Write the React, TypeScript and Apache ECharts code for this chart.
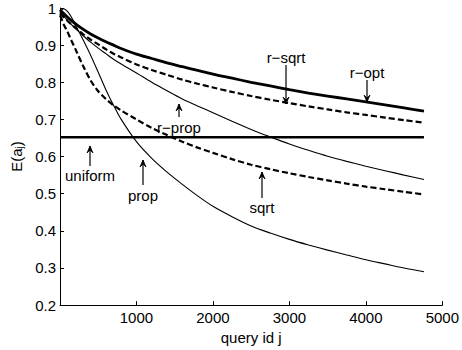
import React, { useEffect, useRef } from "react";
import * as echarts from "echarts";

const queryIds = [0, 25, 50, 100, 150, 200, 300, 400, 500, 600, 700, 800, 1000, 1200, 1400, 1600, 1800, 2000, 2250, 2500, 2750, 3000, 3250, 3500, 3750, 4000, 4250, 4500, 4760];
const rOpt = [0.995, 0.99, 0.985, 0.975, 0.966, 0.958, 0.943, 0.93, 0.919, 0.909, 0.9, 0.891, 0.876, 0.864, 0.852, 0.842, 0.832, 0.822, 0.811, 0.8, 0.79, 0.78, 0.771, 0.763, 0.755, 0.747, 0.739, 0.731, 0.722];
const rSqrt = [0.985, 0.98, 0.975, 0.965, 0.956, 0.947, 0.93, 0.915, 0.902, 0.889, 0.877, 0.867, 0.848, 0.833, 0.82, 0.807, 0.796, 0.786, 0.774, 0.763, 0.753, 0.744, 0.735, 0.727, 0.719, 0.712, 0.705, 0.698, 0.691];
const rProp = [0.99, 0.984, 0.978, 0.966, 0.955, 0.945, 0.926, 0.908, 0.892, 0.877, 0.862, 0.849, 0.825, 0.8, 0.777, 0.755, 0.736, 0.718, 0.695, 0.673, 0.653, 0.634, 0.617, 0.601, 0.587, 0.574, 0.562, 0.55, 0.538];
const sqrtV = [0.98, 0.968, 0.955, 0.935, 0.912, 0.89, 0.845, 0.805, 0.776, 0.755, 0.738, 0.724, 0.7, 0.677, 0.658, 0.64, 0.624, 0.61, 0.593, 0.578, 0.566, 0.555, 0.545, 0.536, 0.527, 0.519, 0.512, 0.505, 0.498];
const propV = [0.985, 0.995, 0.998, 0.99, 0.975, 0.955, 0.915, 0.873, 0.827, 0.78, 0.738, 0.7, 0.64, 0.595, 0.558, 0.525, 0.494, 0.466, 0.438, 0.413, 0.394, 0.377, 0.362, 0.348, 0.335, 0.322, 0.311, 0.3, 0.29];
const uniformLevel = 0.652;
const yTicks = { min: 0.2, max: 1, interval: 0.1 };
const xTicks = { min: 0, max: 5000, interval: 1000 };

const FONT = "Liberation Sans, Arial, Helvetica, sans-serif";

function pairs(vals: number[]) {
  return queryIds.map((x, i) => [x, vals[i]]);
}

function arrow(label: string, x: number, labelY: number, y1: number, y2: number) {
  const dir = y2 > y1 ? 1 : -1;
  return {
    type: "group",
    children: [
      {
        type: "text",
        x,
        y: labelY,
        style: { text: label, font: `15px ${FONT}`, fill: "#000", align: "center", verticalAlign: "middle" },
      },
      { type: "line", shape: { x1: x, y1, x2: x, y2 }, style: { stroke: "#000", lineWidth: 1.2 } },
      {
        type: "polygon",
        shape: { points: [[x - 3, y2 - dir * 7], [x, y2], [x + 3, y2 - dir * 7], [x, y2 - dir * 4]] },
        style: { fill: "#000", stroke: "#000", lineWidth: 0.8 },
      },
    ],
  };
}

export default function App() {
  const ref = useRef<HTMLDivElement>(null);
  useEffect(() => {
    if (!ref.current) return;
    const chart = echarts.init(ref.current, null, { renderer: "svg" });
    const thin = { type: "line", showSymbol: false, smooth: 0.3, lineStyle: { color: "#000", width: 1.1 } };
    chart.setOption({
      animation: false,
      grid: { left: 60, right: 16, top: 8, bottom: 37 },
      textStyle: { fontFamily: FONT },
      xAxis: {
        type: "value",
        ...xTicks,
        name: "query id j",
        nameLocation: "middle",
        nameGap: 20,
        nameTextStyle: { fontSize: 15, color: "#000", fontFamily: FONT },
        axisLine: { lineStyle: { color: "#000", width: 1 } },
        axisTick: { inside: true, length: 4, lineStyle: { color: "#000" } },
        axisLabel: { fontSize: 15, color: "#000", margin: 5, fontFamily: FONT, formatter: (v: number) => (v === 0 ? "" : String(v)) },
        splitLine: { show: false },
      },
      yAxis: {
        type: "value",
        ...yTicks,
        name: "E(a{sub|j})",
        nameLocation: "middle",
        nameGap: 33,
        nameRotate: 90,
        nameTextStyle: {
          fontSize: 15,
          color: "#000",
          fontFamily: FONT,
          rich: { sub: { fontSize: 10, color: "#000", fontFamily: FONT, verticalAlign: "bottom", padding: [6, 0, 0, 0] } },
        },
        axisLine: { show: true, lineStyle: { color: "#000", width: 1 } },
        axisTick: { show: true, inside: true, length: 4, lineStyle: { color: "#000" } },
        axisLabel: { fontSize: 15, color: "#000", margin: 4, fontFamily: FONT },
        splitLine: { show: false },
      },
      series: [
        { ...thin, name: "uniform", data: pairs(queryIds.map(() => uniformLevel)), lineStyle: { color: "#000", width: 2.6 } },
        { ...thin, name: "prop", data: pairs(propV) },
        { ...thin, name: "r-prop", data: pairs(rProp) },
        { ...thin, name: "sqrt", data: pairs(sqrtV), lineStyle: { color: "#000", width: 2.2, type: [6, 3] } },
        { ...thin, name: "r-sqrt", data: pairs(rSqrt), lineStyle: { color: "#000", width: 2.2, type: [6, 3] } },
        { ...thin, name: "r-opt", data: pairs(rOpt), lineStyle: { color: "#000", width: 2.8 } },
      ],
      graphic: [
        arrow("r\u2212sqrt", 286, 57, 65, 104),
        arrow("r\u2212opt", 367, 72, 80, 102),
        arrow("r\u2212prop", 179, 127, 117, 104),
        arrow("uniform", 90, 175, 166, 146),
        arrow("prop", 143, 195, 185, 160),
        arrow("sqrt", 262, 207, 198, 172),
      ],
    });
    return () => chart.dispose();
  }, []);
  return <div ref={ref} style={{ position: "fixed", left: 0, top: 0, width: 462, height: 350, background: "#fff" }} />;
}
